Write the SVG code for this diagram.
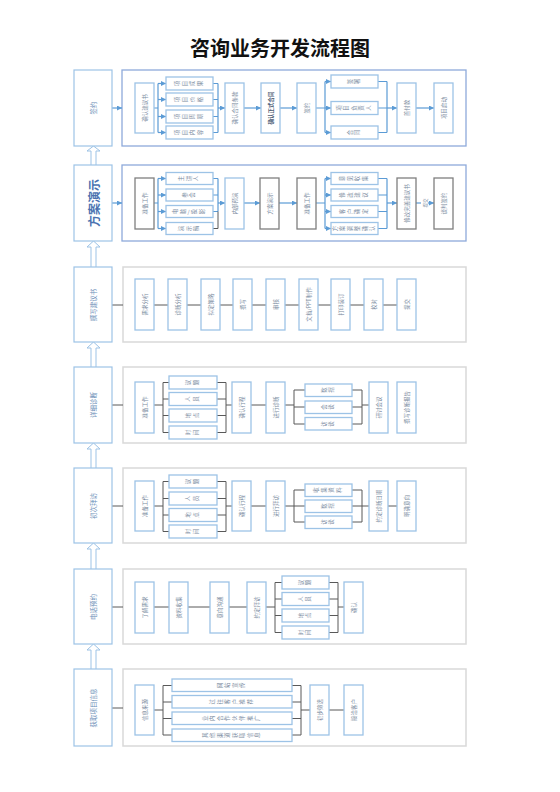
<svg xmlns="http://www.w3.org/2000/svg" width="560" height="792" viewBox="0 0 560 792">
<style>
.lb{fill:#fff;stroke:#9dc3e6;stroke-width:1.2}
.cb{fill:#fff;stroke:#8eaadb;stroke-width:1.3}
.cg{fill:#fff;stroke:#d9d9d9;stroke-width:1.5}
.b{fill:#fff;stroke:#9dc3e6;stroke-width:1.3}
.bg{fill:#fff;stroke:#7f7f7f;stroke-width:1.3}
.t{font-family:"Noto Sans CJK SC","Noto Sans",sans-serif;font-size:5.5px;fill:#7a8aa0;text-anchor:middle;dominant-baseline:central}
.v{font-family:"Noto Sans CJK SC","Noto Sans",sans-serif;font-size:5.5px;fill:#7a8aa0;text-anchor:middle;writing-mode:vertical-rl;letter-spacing:2px}
.lt{font-family:"Noto Sans CJK SC","Noto Sans",sans-serif;font-size:6.5px;fill:#6d8fb8;text-anchor:middle;dominant-baseline:central}
.title{font-family:"Noto Sans CJK SC","Noto Sans",sans-serif;font-size:20px;font-weight:bold;fill:#111;text-anchor:middle}
.bl{fill:none;stroke:#5b9bd5;stroke-width:1.2}
.gl{fill:none;stroke:#595959;stroke-width:1}
.up{fill:#fff;stroke:#9dc3e6;stroke-width:1}
</style>
<defs>
<marker id="ab" markerWidth="5" markerHeight="5" refX="5" refY="2.5" orient="auto" markerUnits="userSpaceOnUse"><path d="M0,0 L5,2.5 L0,5z" fill="#5b9bd5"/></marker>
</defs>
<rect width="560" height="792" fill="#fff"/>
<text class="title" x="280" y="56">咨询业务开发流程图</text>

<!-- containers -->
<g id="containers">
<rect class="cb" x="122" y="70" width="344" height="76"/>
<rect class="cb" x="122" y="165" width="344" height="76"/>
<rect class="cg" x="123" y="267" width="343" height="75"/>
<rect class="cg" x="123" y="367" width="343" height="76"/>
<rect class="cg" x="123" y="468" width="343" height="75"/>
<rect class="cg" x="123" y="569" width="343" height="75"/>
<rect class="cg" x="123" y="669" width="343" height="77"/>
</g>

<!-- connectors -->
<g id="connectors">
<!-- up arrows between stages -->
<path class="up" d="M91,165 V151 H87 L93.5,146 L100,151 H96 V165"/>
<path class="up" d="M91,267 V247 H87 L93.5,241 L100,247 H96 V267"/>
<path class="up" d="M91,367 V348 H87 L93.5,342 L100,348 H96 V367"/>
<path class="up" d="M91,468 V449 H87 L93.5,443 L100,449 H96 V468"/>
<path class="up" d="M91,569 V549 H87 L93.5,543 L100,549 H96 V569"/>
<path class="up" d="M91,669 V650 H87 L93.5,644 L100,650 H96 V669"/>
<!-- row 1 -->
<path class="bl" marker-end="url(#ab)" d="M112,108 H122"/>
<path class="bl" d="M154,108 H158 M158,83.5 V132.5 M213,83.5 H218 M213,99.5 H218 M213,116.5 H218 M213,132.5 H218 M218,83.5 V132.5"/>
<path class="bl" marker-end="url(#ab)" d="M158,83.5 H166"/>
<path class="bl" marker-end="url(#ab)" d="M158,99.5 H166"/>
<path class="bl" marker-end="url(#ab)" d="M158,116.5 H166"/>
<path class="bl" marker-end="url(#ab)" d="M158,132.5 H166"/>
<path class="bl" marker-end="url(#ab)" d="M218,108 H225"/>
<path class="bl" marker-end="url(#ab)" d="M244,108 H261"/>
<path class="bl" marker-end="url(#ab)" d="M280,108 H297"/>
<path class="bl" d="M316,108 H325 M325,81.5 V132.5 M378,81.5 H387 M378,108 H387 M378,132.5 H387 M387,81.5 V132.5"/>
<path class="bl" marker-end="url(#ab)" d="M325,81.5 H331"/>
<path class="bl" marker-end="url(#ab)" d="M325,108 H331"/>
<path class="bl" marker-end="url(#ab)" d="M325,132.5 H331"/>
<path class="bl" marker-end="url(#ab)" d="M387,108 H397"/>
<path class="bl" marker-end="url(#ab)" d="M416,108 H434"/>
<!-- row 2 -->
<path class="bl" marker-end="url(#ab)" d="M112,203 H122"/>
<path class="bl" d="M154,203 H158 M158,178.5 V228.5 M213,178.5 H218 M213,195 H218 M213,211.5 H218 M218,178.5 V211.5"/>
<path class="gl" d="M213,228.5 H218 V211.5"/>
<path class="bl" marker-end="url(#ab)" d="M158,178.5 H166"/>
<path class="bl" marker-end="url(#ab)" d="M158,195 H166"/>
<path class="bl" marker-end="url(#ab)" d="M158,211.5 H166"/>
<path class="bl" marker-end="url(#ab)" d="M158,228.5 H166"/>
<path class="bl" marker-end="url(#ab)" d="M218,203 H225"/>
<path class="bl" marker-end="url(#ab)" d="M244,203 H260"/>
<path class="bl" marker-end="url(#ab)" d="M279,203 H297"/>
<path class="bl" d="M316,203 H325 M325,178.5 V228.5 M378,178.5 H387 M378,195 H387 M378,211.5 H387 M378,228.5 H387 M387,178.5 V228.5"/>
<path class="bl" marker-end="url(#ab)" d="M325,178.5 H331"/>
<path class="bl" marker-end="url(#ab)" d="M325,195 H331"/>
<path class="bl" marker-end="url(#ab)" d="M325,211.5 H331"/>
<path class="bl" marker-end="url(#ab)" d="M325,228.5 H331"/>
<path class="bl" marker-end="url(#ab)" d="M387,203 H397"/>
<path class="bl" marker-end="url(#ab)" d="M416,203 H434"/>
<!-- row 3 -->
<path class="gl" d="M112,305 H123 M154,305 H168 M187,305 H201 M220,305 H233 M252,305 H266 M285,305 H299 M318,305 H331 M350,305 H364 M383,305 H397"/>
<!-- row 4 -->
<path class="gl" d="M112,405 H123 M154,405 H163 M163,382.5 V432.5 M163,382.5 H169 M163,399 H169 M163,415.5 H169 M163,432.5 H169 M217,382.5 H226 M217,399 H226 M217,415.5 H226 M217,432.5 H226 M226,382.5 V432.5 M226,405 H232 M251,405 H266 M285,405 H294 M294,390 V424 M294,390 H305 M294,407 H305 M294,424 H305 M352,390 H362 M352,407 H362 M352,424 H362 M362,390 V424 M362,405 H369"/>
<!-- row 5 -->
<path class="gl" d="M112,506 H123 M154,506 H163 M163,481.5 V531.5 M163,481.5 H169 M163,498.5 H169 M163,515 H169 M163,531.5 H169 M217,481.5 H226 M217,498.5 H226 M217,515 H226 M217,531.5 H226 M226,481.5 V531.5 M226,506 H232 M251,506 H266 M285,506 H294 M294,490 V522 M294,490 H305 M294,506 H305 M294,522 H305 M352,490 H362 M352,506 H362 M352,522 H362 M362,490 V522 M362,506 H369 M388,506 H397"/>
<!-- row 6 -->
<path class="gl" d="M112,607 H123 M154,607 H169 M188,607 H210 M229,607 H247 M266,607 H275 M275,582.5 V632.5 M275,582.5 H282 M275,599 H282 M275,615.5 H282 M275,632.5 H282 M329,582.5 H338 M329,599 H338 M329,615.5 H338 M329,632.5 H338 M338,582.5 V632.5 M338,607 H344"/>
<!-- row 7 -->
<path class="gl" d="M112,708 H123 M154,710 H163 M163,685.5 V735 M163,685.5 H172 M163,702 H172 M163,718.5 H172 M163,735 H172 M292,685.5 H301 M292,702 H301 M292,718.5 H301 M292,735 H301 M301,685.5 V735 M301,710 H310 M329,710 H344"/>
</g>

<!-- stage labels -->
<g id="stage1"><rect class="lb" x="74" y="70" width="38" height="76"/><text class="lt" transform="translate(93,108) rotate(-90)">签约</text></g>
<g id="stage2"><rect class="lb" x="74" y="165" width="38" height="76"/><text class="lt" style="font-size:12px;font-weight:bold;fill:#4a72b0" transform="translate(93,203) rotate(-90)">方案演示</text></g>
<g id="stage3"><rect class="lb" x="74" y="267" width="38" height="75"/><text class="lt" transform="translate(93,305) rotate(-90)">撰写建议书</text></g>
<g id="stage4"><rect class="lb" x="74" y="367" width="38" height="76"/><text class="lt" transform="translate(93,405) rotate(-90)">详细诊断</text></g>
<g id="stage5"><rect class="lb" x="74" y="468" width="38" height="75"/><text class="lt" transform="translate(93,506) rotate(-90)">初次拜访</text></g>
<g id="stage6"><rect class="lb" x="74" y="569" width="38" height="75"/><text class="lt" transform="translate(93,607) rotate(-90)">电话预约</text></g>
<g id="stage7"><rect class="lb" x="74" y="669" width="38" height="77"/><text class="lt" transform="translate(93,708) rotate(-90)">获取项目信息</text></g>

<!-- row 1 nodes -->
<g id="r1a"><rect class="b" x="135" y="83" width="19" height="50"/><text class="t" transform="translate(144.5,108) rotate(-90)">确认建议书</text></g>
<g id="r1b1"><rect class="b" x="166" y="77" width="47" height="13"/><text class="v" transform="translate(189.5,83.5) rotate(-90)">项目成果</text></g>
<g id="r1b2"><rect class="b" x="166" y="93" width="47" height="13"/><text class="v" transform="translate(189.5,99.5) rotate(-90)">项目价格</text></g>
<g id="r1b3"><rect class="b" x="166" y="110" width="47" height="13"/><text class="v" transform="translate(189.5,116.5) rotate(-90)">项目周期</text></g>
<g id="r1b4"><rect class="b" x="166" y="126" width="47" height="13"/><text class="v" transform="translate(189.5,132.5) rotate(-90)">项目内容</text></g>
<g id="r1c"><rect class="b" x="225" y="83" width="19" height="50"/><text class="t" transform="translate(234.5,108) rotate(-90)">确认合同条款</text></g>
<g id="r1d"><rect class="b" x="261" y="83" width="19" height="50"/><text class="t" style="font-weight:bold;fill:#4d5d75" transform="translate(270.5,108) rotate(-90)">确认正式合同</text></g>
<g id="r1e"><rect class="b" x="297" y="83" width="19" height="50"/><text class="t" transform="translate(306.5,108) rotate(-90)">签约</text></g>
<g id="r1f1"><rect class="b" x="331" y="75" width="47" height="13"/><text class="v" transform="translate(354.5,81.5) rotate(-90)">签署</text></g>
<g id="r1f2"><rect class="b" x="331" y="101.5" width="47" height="13"/><text class="v" transform="translate(354.5,108) rotate(-90)">项目负责人</text></g>
<g id="r1f3"><rect class="b" x="331" y="126" width="47" height="13"/><text class="v" transform="translate(354.5,132.5) rotate(-90)">合同</text></g>
<g id="r1g"><rect class="b" x="397" y="83" width="19" height="50"/><text class="t" transform="translate(406.5,108) rotate(-90)">首付款</text></g>
<g id="r1h"><rect class="b" x="434" y="83" width="19" height="50"/><text class="t" transform="translate(443.5,108) rotate(-90)">项目启动</text></g>

<!-- row 2 nodes -->
<g id="r2a"><rect class="bg" x="135" y="178" width="19" height="51"/><text class="t" transform="translate(144.5,203.5) rotate(-90)">准备工作</text></g>
<g id="r2b1"><rect class="b" x="166" y="172.5" width="47" height="12"/><text class="v" transform="translate(189.5,178.5) rotate(-90)">主讲人</text></g>
<g id="r2b2"><rect class="b" x="166" y="189" width="47" height="12"/><text class="v" transform="translate(189.5,195) rotate(-90)">参会</text></g>
<g id="r2b3"><rect class="b" x="166" y="205.5" width="47" height="12"/><text class="v" transform="translate(189.5,211.5) rotate(-90)">电脑/投影</text></g>
<g id="r2b4"><rect class="b" x="166" y="222.5" width="47" height="12"/><text class="v" transform="translate(189.5,228.5) rotate(-90)">演示稿</text></g>
<g id="r2c"><rect class="b" x="225" y="178" width="19" height="51"/><text class="t" transform="translate(234.5,203.5) rotate(-90)">内部预演</text></g>
<g id="r2d"><rect class="bg" x="260" y="178" width="19" height="51"/><text class="t" transform="translate(269.5,203.5) rotate(-90)">方案演示</text></g>
<g id="r2e"><rect class="bg" x="297" y="178" width="19" height="51"/><text class="t" transform="translate(306.5,203.5) rotate(-90)">准备工作</text></g>
<g id="r2f1"><rect class="b" x="331" y="172.5" width="47" height="12"/><text class="v" transform="translate(354.5,178.5) rotate(-90)">意见收集</text></g>
<g id="r2f2"><rect class="b" x="331" y="189" width="47" height="12"/><text class="v" transform="translate(354.5,195) rotate(-90)">修改建议</text></g>
<g id="r2f3"><rect class="b" x="331" y="205.5" width="47" height="12"/><text class="v" transform="translate(354.5,211.5) rotate(-90)">客户确定</text></g>
<g id="r2f4"><rect class="b" x="331" y="222.5" width="47" height="12"/><text class="v" transform="translate(354.5,228.5) rotate(-90)">方案调整确认</text></g>
<g id="r2g"><rect class="bg" x="397" y="178" width="19" height="51"/><text class="t" transform="translate(406.5,203.5) rotate(-90)">修改完善建议书</text></g>
<g id="r2lbl"><rect x="421" y="198" width="7" height="10" fill="#fff"/><text class="t" style="font-size:4.5px" transform="translate(424.5,203) rotate(-90)">提交</text></g>
<g id="r2h"><rect class="bg" x="434" y="178" width="19" height="51"/><text class="t" transform="translate(443.5,203.5) rotate(-90)">谈判签约</text></g>

<!-- row 3 nodes -->
<g id="r3a"><rect class="b" x="135" y="279" width="19" height="51"/><text class="t" transform="translate(144.5,304.5) rotate(-90)">需求分析</text></g>
<g id="r3b"><rect class="b" x="168" y="279" width="19" height="51"/><text class="t" transform="translate(177.5,304.5) rotate(-90)">诊断分析</text></g>
<g id="r3c"><rect class="b" x="201" y="279" width="19" height="51"/><text class="t" transform="translate(210.5,304.5) rotate(-90)">拟定策略</text></g>
<g id="r3d"><rect class="b" x="233" y="279" width="19" height="51"/><text class="t" transform="translate(242.5,304.5) rotate(-90)">撰写</text></g>
<g id="r3e"><rect class="b" x="266" y="279" width="19" height="51"/><text class="t" transform="translate(275.5,304.5) rotate(-90)">审核</text></g>
<g id="r3f"><rect class="b" x="299" y="279" width="19" height="51"/><text class="t" transform="translate(308.5,304.5) rotate(-90)">文档/PPT制作</text></g>
<g id="r3g"><rect class="b" x="331" y="279" width="19" height="51"/><text class="t" transform="translate(340.5,304.5) rotate(-90)">打印装订</text></g>
<g id="r3h"><rect class="b" x="364" y="279" width="19" height="51"/><text class="t" transform="translate(373.5,304.5) rotate(-90)">校对</text></g>
<g id="r3i"><rect class="b" x="397" y="279" width="19" height="51"/><text class="t" transform="translate(406.5,304.5) rotate(-90)">提交</text></g>

<!-- row 4 nodes -->
<g id="r4a"><rect class="b" x="135" y="382" width="19" height="51"/><text class="t" transform="translate(144.5,407.5) rotate(-90)">准备工作</text></g>
<g id="r4b1"><rect class="b" x="169" y="376" width="48" height="13"/><text class="v" transform="translate(193,382.5) rotate(-90)">议题</text></g>
<g id="r4b2"><rect class="b" x="169" y="392.5" width="48" height="13"/><text class="v" transform="translate(193,399) rotate(-90)">人员</text></g>
<g id="r4b3"><rect class="b" x="169" y="409" width="48" height="13"/><text class="v" transform="translate(193,415.5) rotate(-90)">地点</text></g>
<g id="r4b4"><rect class="b" x="169" y="426" width="48" height="13"/><text class="v" transform="translate(193,432.5) rotate(-90)">时间</text></g>
<g id="r4c"><rect class="b" x="232" y="382" width="19" height="51"/><text class="t" transform="translate(241.5,407.5) rotate(-90)">确认行程</text></g>
<g id="r4d"><rect class="b" x="266" y="382" width="19" height="51"/><text class="t" transform="translate(275.5,407.5) rotate(-90)">进行诊断</text></g>
<g id="r4e1"><rect class="b" x="305" y="384" width="47" height="12.5"/><text class="v" transform="translate(328.5,390) rotate(-90)">数据</text></g>
<g id="r4e2"><rect class="b" x="305" y="401" width="47" height="12.5"/><text class="v" transform="translate(328.5,407) rotate(-90)">会谈</text></g>
<g id="r4e3"><rect class="b" x="305" y="417.5" width="47" height="12.5"/><text class="v" transform="translate(328.5,424) rotate(-90)">访谈</text></g>
<g id="r4f"><rect class="b" x="369" y="382" width="19" height="51"/><text class="t" transform="translate(378.5,407.5) rotate(-90)">研讨会议</text></g>
<g id="r4g"><rect class="b" x="397" y="382" width="19" height="51"/><text class="t" transform="translate(406.5,407.5) rotate(-90)">撰写诊断报告</text></g>

<!-- row 5 nodes -->
<g id="r5a"><rect class="b" x="135" y="481" width="19" height="50"/><text class="t" transform="translate(144.5,506) rotate(-90)">准备工作</text></g>
<g id="r5b1"><rect class="b" x="169" y="475" width="48" height="13"/><text class="v" transform="translate(193,481.5) rotate(-90)">议题</text></g>
<g id="r5b2"><rect class="b" x="169" y="492" width="48" height="13"/><text class="v" transform="translate(193,498.5) rotate(-90)">人员</text></g>
<g id="r5b3"><rect class="b" x="169" y="508.5" width="48" height="13"/><text class="v" transform="translate(193,515) rotate(-90)">地点</text></g>
<g id="r5b4"><rect class="b" x="169" y="525" width="48" height="13"/><text class="v" transform="translate(193,531.5) rotate(-90)">时间</text></g>
<g id="r5c"><rect class="b" x="232" y="481" width="19" height="50"/><text class="t" transform="translate(241.5,506) rotate(-90)">确认行程</text></g>
<g id="r5d"><rect class="b" x="266" y="481" width="19" height="50"/><text class="t" transform="translate(275.5,506) rotate(-90)">进行拜访</text></g>
<g id="r5e1"><rect class="b" x="305" y="484" width="47" height="12.5"/><text class="v" transform="translate(328.5,490) rotate(-90)">收集资料</text></g>
<g id="r5e2"><rect class="b" x="305" y="500" width="47" height="12.5"/><text class="v" transform="translate(328.5,506) rotate(-90)">数据</text></g>
<g id="r5e3"><rect class="b" x="305" y="516" width="47" height="12.5"/><text class="v" transform="translate(328.5,522) rotate(-90)">访谈</text></g>
<g id="r5f"><rect class="b" x="369" y="481" width="19" height="50"/><text class="t" transform="translate(378.5,506) rotate(-90)">约定诊断日期</text></g>
<g id="r5g"><rect class="b" x="397" y="481" width="19" height="50"/><text class="t" transform="translate(406.5,506) rotate(-90)">明确意向</text></g>

<!-- row 6 nodes -->
<g id="r6a"><rect class="b" x="135" y="582" width="19" height="51"/><text class="t" transform="translate(144.5,607.5) rotate(-90)">了解需求</text></g>
<g id="r6b"><rect class="b" x="169" y="582" width="19" height="51"/><text class="t" transform="translate(178.5,607.5) rotate(-90)">资料收集</text></g>
<g id="r6c"><rect class="b" x="210" y="582" width="19" height="51"/><text class="t" transform="translate(219.5,607.5) rotate(-90)">意向沟通</text></g>
<g id="r6d"><rect class="b" x="247" y="582" width="19" height="51"/><text class="t" transform="translate(256.5,607.5) rotate(-90)">约定拜访</text></g>
<g id="r6e1"><rect class="b" x="282" y="576" width="47" height="13"/><text class="v" transform="translate(305.5,582.5) rotate(-90)">议题</text></g>
<g id="r6e2"><rect class="b" x="282" y="592.5" width="47" height="13"/><text class="v" transform="translate(305.5,599) rotate(-90)">人员</text></g>
<g id="r6e3"><rect class="b" x="282" y="609" width="47" height="13"/><text class="v" transform="translate(305.5,615.5) rotate(-90)">地点</text></g>
<g id="r6e4"><rect class="b" x="282" y="626" width="47" height="13"/><text class="v" transform="translate(305.5,632.5) rotate(-90)">时间</text></g>
<g id="r6f"><rect class="b" x="344" y="582" width="19" height="51"/><text class="t" transform="translate(353.5,607.5) rotate(-90)">确认</text></g>

<!-- row 7 nodes -->
<g id="r7a"><rect class="b" x="135" y="685" width="19" height="50"/><text class="t" transform="translate(144.5,710) rotate(-90)">信息来源</text></g>
<g id="r7b1"><rect class="b" x="172" y="679" width="120" height="12.5"/><text class="v" transform="translate(232,685.25) rotate(-90)">网站宣传</text></g>
<g id="r7b2"><rect class="b" x="172" y="695.5" width="120" height="12.5"/><text class="v" transform="translate(232,701.75) rotate(-90)">过往客户推荐</text></g>
<g id="r7b3"><rect class="b" x="172" y="712" width="120" height="12.5"/><text class="v" transform="translate(232,718.25) rotate(-90)">业内合作伙伴推广</text></g>
<g id="r7b4"><rect class="b" x="172" y="729" width="120" height="12.5"/><text class="v" transform="translate(232,735.25) rotate(-90)">其他渠道获取信息</text></g>
<g id="r7c"><rect class="b" x="310" y="685" width="19" height="50"/><text class="t" transform="translate(319.5,710) rotate(-90)">初步筛选</text></g>
<g id="r7d"><rect class="b" x="344" y="685" width="19" height="50"/><text class="t" transform="translate(353.5,710) rotate(-90)">接洽客户</text></g>
</svg>
